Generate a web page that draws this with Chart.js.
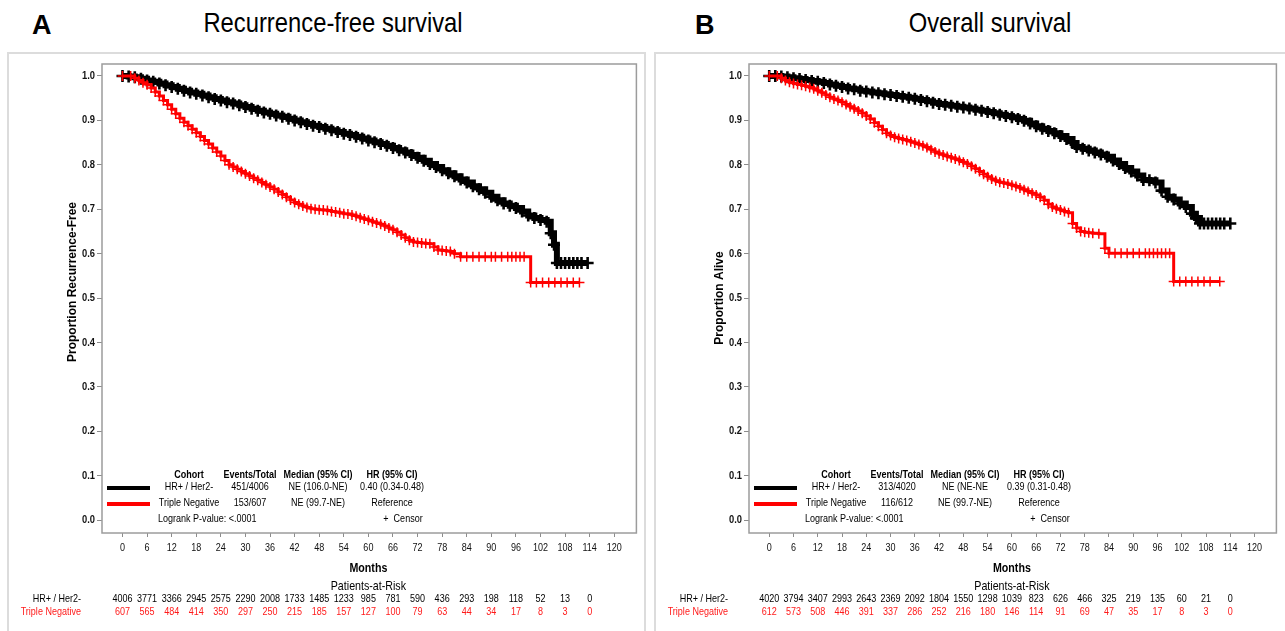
<!DOCTYPE html>
<html>
<head>
<meta charset="utf-8">
<script src="https://cdn.jsdelivr.net/npm/chart.js@4.4.1/dist/chart.umd.min.js"></script>
<style>
  html, body { margin: 0; padding: 0; background: #fff; width: 1285px; height: 631px; overflow: hidden; }
  .frame { position: absolute; border: 2px solid #dcdcdc; box-sizing: border-box; }
  .lbl { position: absolute; color: #000; line-height: 1; white-space: nowrap; }
  .letter { font-family: 'Liberation Sans', Arial, sans-serif; font-weight: bold; font-size: 27px; }
  .ttl { font-family: 'Liberation Sans', Arial, sans-serif; font-size: 28px; text-align: center; width: 400px; transform: scaleX(0.85); transform-origin: 50% 50%; }
  canvas { position: absolute; }
</style>
</head>
<body>
<div class="frame" style="left:7px; top:52px; width:639px; height:600px;"></div>
<div class="frame" style="left:654px; top:52px; width:650px; height:600px;"></div>
<div class="lbl letter" style="left:32px; top:12px;">A</div>
<div class="lbl ttl" style="left:133px; top:9px;">Recurrence-free survival</div>
<div class="lbl letter" style="left:695px; top:12px;">B</div>
<div class="lbl ttl" style="left:790px; top:9px;">Overall survival</div>
<div style="position:absolute;left:8px;top:53px;width:637px;height:578px;"><canvas id="cA"></canvas></div>
<div style="position:absolute;left:655px;top:53px;width:630px;height:578px;"><canvas id="cB"></canvas></div>
<script>
// ---------------- DATA ----------------
const xTicks = [0, 6, 12, 18, 24, 30, 36, 42, 48, 54, 60, 66, 72, 78, 84, 90, 96, 102, 108, 114, 120];
const yTicks = [0.0, 0.1, 0.2, 0.3, 0.4, 0.5, 0.6, 0.7, 0.8, 0.9, 1.0];
const riskMonths = [0, 6, 12, 18, 24, 30, 36, 42, 48, 54, 60, 66, 72, 78, 84, 90, 96, 102, 108, 114];

const cohortNames = ['HR+ / Her2-', 'Triple Negative'];

// Recurrence-free survival: at-risk counts
const rfsRiskHR = [4006, 3771, 3366, 2945, 2575, 2290, 2008, 1733, 1485, 1233, 985, 781, 590, 436, 293, 198, 118, 52, 13, 0];
const rfsRiskTN = [607, 565, 484, 414, 350, 297, 250, 215, 185, 157, 127, 100, 79, 63, 44, 34, 17, 8, 3, 0];
// Overall survival: at-risk counts
const osRiskHR = [4020, 3794, 3407, 2993, 2643, 2369, 2092, 1804, 1550, 1298, 1039, 823, 626, 466, 325, 219, 135, 60, 21, 0];
const osRiskTN = [612, 573, 508, 446, 391, 337, 286, 252, 216, 180, 146, 114, 91, 69, 47, 35, 17, 8, 3, 0];

// Legend tables
const legendHeaders = ['Cohort', 'Events/Total', 'Median (95% CI)', 'HR (95% CI)'];
const rfsLegend = [
  ['HR+ / Her2-', '451/4006', 'NE (106.0-NE)', '0.40 (0.34-0.48)'],
  ['Triple Negative', '153/607', 'NE (99.7-NE)', 'Reference']
];
const osLegend = [
  ['HR+ / Her2-', '313/4020', 'NE (NE-NE', '0.39 (0.31-0.48)'],
  ['Triple Negative', '116/612', 'NE (99.7-NE)', 'Reference']
];

// Kaplan-Meier curves [month, proportion] (each point shown with a censor mark)
const rfsHR = [[0,1],[1.5,0.999],[3,0.997],[4.5,0.994],[6,0.99],[7.5,0.987],[9,0.983],[10.5,0.979],[12,0.975],[13.5,0.971],[15,0.967],[16.5,0.963],[18,0.96],[19.5,0.956],[21,0.952],[22.5,0.948],[24,0.945],[25.5,0.941],[27,0.938],[28.5,0.934],[30,0.93],[31.5,0.926],[33,0.922],[34.5,0.918],[36,0.915],[37.5,0.911],[39,0.908],[40.5,0.904],[42,0.9],[43.5,0.896],[45,0.892],[46.5,0.888],[48,0.885],[49.5,0.881],[51,0.878],[52.5,0.874],[54,0.87],[55.5,0.867],[57,0.863],[58.5,0.859],[60,0.855],[61.5,0.851],[63,0.847],[64.5,0.843],[66,0.838],[67.5,0.833],[69,0.828],[70.5,0.822],[72,0.816],[73.5,0.809],[75,0.802],[76.5,0.795],[78,0.788],[79.5,0.781],[81,0.774],[82.5,0.767],[84,0.76],[85.5,0.752],[87,0.745],[88.5,0.737],[90,0.728],[91.5,0.72],[93,0.713],[94.5,0.708],[96,0.703],[97.5,0.695],[99,0.686],[100.5,0.68],[102,0.676],[103.5,0.672],[104.5,0.646],[105.3,0.62],[106,0.579],[107,0.579],[108,0.579],[109,0.579],[110,0.579],[111,0.579],[112,0.579],[113.5,0.579]];
const rfsTN = [[0,1],[2,1],[3,0.995],[4,0.99],[5,0.985],[6,0.98],[7,0.973],[8,0.964],[9,0.955],[10,0.945],[11,0.935],[12,0.925],[13,0.915],[14,0.905],[15,0.896],[16,0.888],[17,0.88],[18,0.872],[19,0.864],[20,0.855],[21,0.847],[22,0.838],[23,0.829],[24,0.82],[25,0.81],[26,0.8],[27,0.795],[28,0.79],[29,0.785],[30,0.78],[31,0.775],[32,0.77],[33,0.765],[34,0.76],[35,0.755],[36,0.75],[37,0.745],[38,0.739],[39,0.733],[40,0.727],[41,0.721],[42,0.715],[43,0.711],[44,0.707],[45,0.704],[46,0.701],[47,0.7],[48,0.699],[49,0.698],[50,0.697],[51,0.695],[52,0.694],[53,0.692],[54,0.69],[55,0.689],[56,0.687],[57,0.684],[58,0.681],[59,0.678],[60,0.675],[61,0.672],[62,0.669],[63,0.666],[64,0.662],[65,0.658],[66,0.654],[67,0.648],[68,0.642],[69,0.636],[70,0.63],[71,0.626],[72,0.625],[73,0.624],[74,0.623],[75,0.622],[76,0.615],[77,0.608],[78,0.607],[79,0.606],[80,0.605],[81,0.6],[82.5,0.593],[84,0.593],[85.5,0.593],[87,0.593],[88.5,0.593],[90,0.593],[91,0.593],[92.5,0.593],[94,0.593],[95,0.593],[96,0.593],[97,0.593],[98,0.593],[99.6,0.535],[101,0.535],[102.5,0.535],[104,0.535],[105.5,0.535],[107,0.535],[108.5,0.535],[110,0.535],[111.5,0.535]];
const osHR = [[0,1],[1.5,1],[3,0.999],[4.5,0.997],[6,0.995],[7.5,0.993],[9,0.991],[10.5,0.989],[12,0.987],[13.5,0.984],[15,0.981],[16.5,0.978],[18,0.975],[19.5,0.972],[21,0.97],[22.5,0.967],[24,0.965],[25.5,0.963],[27,0.961],[28.5,0.959],[30,0.957],[31.5,0.955],[33,0.953],[34.5,0.951],[36,0.949],[37.5,0.946],[39,0.943],[40.5,0.94],[42,0.937],[43.5,0.935],[45,0.933],[46.5,0.931],[48,0.929],[49.5,0.927],[51,0.924],[52.5,0.922],[54,0.919],[55.5,0.916],[57,0.913],[58.5,0.91],[60,0.907],[61.5,0.903],[63,0.899],[64.5,0.893],[66,0.887],[67.5,0.881],[69,0.876],[70.5,0.871],[72,0.865],[73.5,0.858],[75,0.849],[76,0.84],[77.5,0.836],[79,0.832],[80.5,0.828],[82,0.823],[83.5,0.818],[85,0.81],[86.5,0.802],[88,0.793],[89.5,0.785],[91,0.776],[92.5,0.766],[94,0.765],[95.5,0.76],[97,0.742],[98.5,0.728],[100,0.722],[101.5,0.713],[103,0.705],[104.5,0.69],[105.5,0.68],[106.5,0.668],[107.5,0.668],[108.5,0.668],[109.5,0.668],[110.5,0.668],[111.5,0.668],[112.5,0.668],[114,0.668]];
const osTN = [[0,1],[2,1],[3,0.995],[4,0.99],[5,0.986],[6,0.983],[7,0.981],[8,0.979],[9,0.977],[10,0.974],[11,0.971],[12,0.967],[13,0.962],[14,0.957],[15,0.952],[16,0.948],[17,0.945],[18,0.941],[19,0.936],[20,0.931],[21,0.926],[22,0.921],[23,0.916],[24,0.91],[25,0.903],[26,0.895],[27,0.887],[28,0.879],[29,0.871],[30,0.866],[31,0.862],[32,0.859],[33,0.857],[34,0.855],[35,0.852],[36,0.849],[37,0.846],[38,0.843],[39,0.839],[40,0.834],[41,0.829],[42,0.825],[43,0.822],[44,0.819],[45,0.816],[46,0.813],[47,0.81],[48,0.806],[49,0.802],[50,0.797],[51,0.791],[52,0.785],[53,0.779],[54,0.773],[55,0.768],[56,0.764],[57,0.761],[58,0.759],[59,0.757],[60,0.754],[61,0.751],[62,0.748],[63,0.744],[64,0.74],[65,0.736],[66,0.732],[67,0.727],[68,0.72],[69,0.711],[70,0.705],[71,0.701],[72,0.698],[73,0.695],[74,0.692],[75,0.668],[76,0.658],[77,0.65],[78,0.648],[79,0.647],[80,0.646],[81.5,0.645],[83,0.612],[84,0.601],[85.5,0.601],[87,0.601],[88.5,0.601],[90,0.601],[91.5,0.601],[93,0.601],[94,0.601],[95,0.601],[96,0.601],[97,0.601],[98,0.601],[99,0.601],[100,0.537],[101.5,0.537],[103,0.537],[104.5,0.537],[106,0.537],[107.5,0.537],[109,0.537],[111.4,0.537]];

// ---------------- RENDER ----------------
const SANS = "'Liberation Sans', Arial, sans-serif";
const SX = 0.82; // narrow (Arial Narrow-like) horizontal compression
const RED = '#ff0000';
const BLACK = '#000000';

function txt(ctx, t, x, y, align, font, color, sx) {
  ctx.save();
  ctx.font = font;
  ctx.fillStyle = color;
  ctx.textBaseline = 'middle';
  ctx.textAlign = align;
  ctx.translate(x, y);
  ctx.scale(sx || SX, 1);
  ctx.fillText(t, 0, 0);
  ctx.restore();
}

const kmPlugin = {
  id: 'km',
  afterDraw(chart, args, o) {
    const ctx = chart.ctx, a = chart.chartArea, x = chart.scales.x, y = chart.scales.y;
    ctx.save();
    // plot frame
    ctx.strokeStyle = '#9c9c9c';
    ctx.lineWidth = 1.5;
    ctx.strokeRect(a.left, a.top, a.right - a.left, a.bottom - a.top);

    // tick labels
    xTicks.forEach(v => txt(ctx, String(v), x.getPixelForValue(v), a.bottom + 15, 'center', '11px ' + SANS, '#111'));
    yTicks.forEach(v => txt(ctx, v.toFixed(1), a.left - 7, y.getPixelForValue(v), 'right', 'bold 11px ' + SANS, '#111', 0.85));

    // y title
    ctx.save();
    ctx.translate(a.left - 29, o.yTitleY);
    ctx.rotate(-Math.PI / 2);
    txt(ctx, o.yTitle, 0, 0, 'center', 'bold 12px ' + SANS, '#000', 1);
    ctx.restore();

    const cx = (x.getPixelForValue(0) + x.getPixelForValue(120)) / 2;
    txt(ctx, 'Months', cx, a.bottom + 35, 'center', 'bold 13px ' + SANS, '#000');
    txt(ctx, 'Patients-at-Risk', cx, a.bottom + 53, 'center', '13px ' + SANS, '#000');

    // at-risk rows
    const rows = [[o.riskHR, '#000', cohortNames[0]], [o.riskTN, '#ff1a1a', cohortNames[1]]];
    rows.forEach((r, i) => {
      const yy = a.bottom + 66 + i * 13;
      txt(ctx, r[2], a.left - 21, yy, 'right', '11px ' + SANS, r[1]);
      riskMonths.forEach((m, j) => txt(ctx, String(r[0][j]), x.getPixelForValue(m), yy, 'center', '11px ' + SANS, r[1]));
    });

    // inset legend
    const L = a.left;
    const hy = a.bottom - 58;
    const cols = [87, 148, 216, 290];
    legendHeaders.forEach((t, k) => txt(ctx, t, L + cols[k], hy, 'center', 'bold 11px ' + SANS, '#000'));
    o.legend.forEach((row, i) => {
      const yy = hy + 12 + i * 16;
      row.forEach((t, k) => txt(ctx, t, L + cols[k], yy, 'center', '11px ' + SANS, '#000'));
      ctx.strokeStyle = i === 0 ? BLACK : RED;
      ctx.lineWidth = 4;
      ctx.beginPath();
      ctx.moveTo(L + 5, yy + 1);
      ctx.lineTo(L + 48, yy + 1);
      ctx.stroke();
    });
    txt(ctx, 'Logrank P-value: <.0001', L + 56, hy + 44, 'left', '11px ' + SANS, '#000');
    txt(ctx, '+  Censor', L + 301, hy + 44, 'center', '11px ' + SANS, '#000');
    ctx.restore();
  }
};

function makeChart(id, hr, tn, padRight, opts) {
  const ctx = document.getElementById(id);
  return new Chart(ctx, {
    type: 'line',
    data: {
      datasets: [
        {
          label: cohortNames[1],
          data: tn.map(p => ({ x: p[0], y: p[1] })),
          borderColor: RED, backgroundColor: RED,
          borderWidth: 3, stepped: 'before',
          pointStyle: 'cross', pointRadius: 5, pointBorderWidth: 1.5,
          pointBorderColor: RED, pointHoverRadius: 5
        },
        {
          label: cohortNames[0],
          data: hr.map(p => ({ x: p[0], y: p[1] })),
          borderColor: BLACK, backgroundColor: BLACK,
          borderWidth: 6, stepped: 'before',
          pointStyle: 'cross', pointRadius: 6, pointBorderWidth: 2.6,
          pointBorderColor: BLACK, pointHoverRadius: 6
        }
      ]
    },
    options: {
      responsive: true,
      maintainAspectRatio: false,
      animation: false,
      events: [],
      layout: { padding: { left: 0, right: padRight, top: 11, bottom: 0 } },
      plugins: { legend: { display: false }, tooltip: { enabled: false }, km: opts },
      scales: {
        x: {
          type: 'linear', min: -5, max: 125.4,
          afterBuildTicks: s => { s.ticks = xTicks.map(v => ({ value: v })); },
          afterFit: s => { s.height = 98; },
          border: { display: false },
          grid: { drawOnChartArea: false, drawTicks: true, tickLength: 4, color: '#8c8c8c' },
          ticks: { display: false, autoSkip: false, maxRotation: 0 }
        },
        y: {
          type: 'linear', min: -0.029, max: 1.027,
          afterBuildTicks: s => { s.ticks = yTicks.map(v => ({ value: v })); },
          afterFit: s => { s.width = 94; },
          border: { display: false },
          grid: { drawOnChartArea: false, drawTicks: true, tickLength: 5, color: '#8c8c8c' },
          ticks: { display: false }
        }
      }
    },
    plugins: [kmPlugin]
  });
}

makeChart('cA', rfsHR, rfsTN, 8, {
  yTitle: 'Proportion Recurrence-Free', yTitleY: 229,
  riskHR: rfsRiskHR, riskTN: rfsRiskTN, legend: rfsLegend
});
makeChart('cB', osHR, osTN, 3, {
  yTitle: 'Proportion Alive', yTitleY: 245,
  riskHR: osRiskHR, riskTN: osRiskTN, legend: osLegend
});
</script>
</body>
</html>
